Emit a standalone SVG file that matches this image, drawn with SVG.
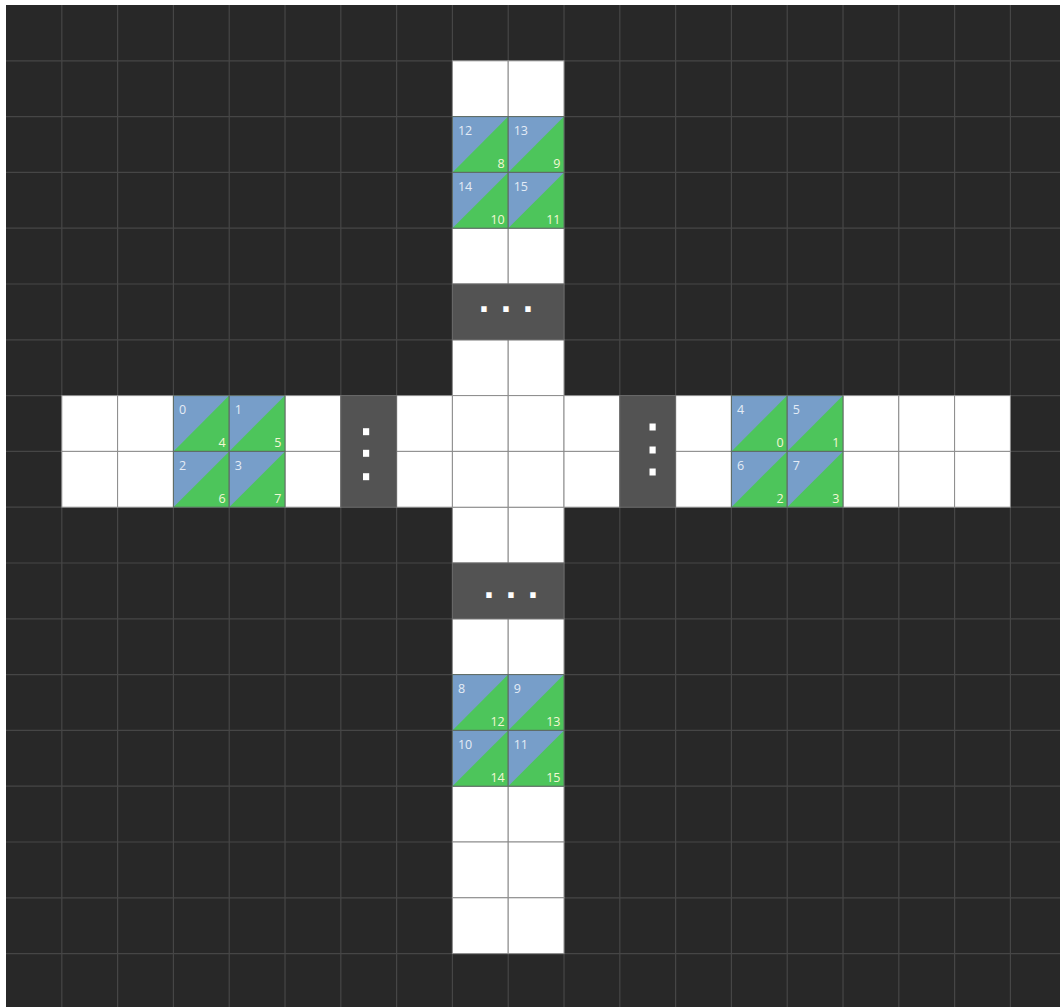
<svg xmlns="http://www.w3.org/2000/svg" xmlns:xlink="http://www.w3.org/1999/xlink" width="1060" height="1007" viewBox="0 0 1060 1007">
<style>
.gl{stroke:#464646;stroke-width:1.2;fill:none}
.w{fill:#ffffff;stroke:#8c8c8c;stroke-width:1}
.dk{fill:#535353;stroke:#6a6a6a;stroke-width:1}
.a{font-family:"Open Sans","DejaVu Sans",sans-serif;font-size:12.5px;fill:#e4ecf6}
.b{font-family:"Open Sans","DejaVu Sans",sans-serif;font-size:12.5px;fill:#f2f8d4;text-anchor:end}
.dot{font-family:"DejaVu Sans",sans-serif;font-weight:bold;font-size:30px;fill:#ffffff}
.vd{fill:#ffffff}
</style>
<defs>
<g id="tile">
<rect x="0" y="0" width="55.8" height="55.8" fill="#779ec9"/>
<polygon points="0,55.8 55.8,0 55.8,55.8" fill="#4dc55b"/>
<rect x="0" y="0" width="55.8" height="55.8" fill="none" stroke="#5e6a62" stroke-width="1"/>
</g>
<rect id="wc" x="0" y="0" width="55.8" height="55.8" class="w"/>
</defs>
<rect x="0" y="0" width="1060" height="1007" fill="#ffffff"/>
<rect x="6" y="5" width="1054" height="1002" fill="#282828"/>
<g id="grid">
<path class="gl" d="M61.8 5V1007M117.6 5V1007M173.4 5V1007M229.2 5V1007M285 5V1007M340.8 5V1007M396.6 5V1007M452.4 5V1007M508.2 5V1007M564 5V1007M619.8 5V1007M675.6 5V1007M731.4 5V1007M787.2 5V1007M843 5V1007M898.8 5V1007M954.6 5V1007M1010.4 5V1007"/>
<path class="gl" d="M6 60.8H1060M6 116.6H1060M6 172.4H1060M6 228.2H1060M6 284H1060M6 339.8H1060M6 395.6H1060M6 451.4H1060M6 507.2H1060M6 563H1060M6 618.8H1060M6 674.6H1060M6 730.4H1060M6 786.2H1060M6 842H1060M6 897.8H1060M6 953.6H1060"/>
</g>
<g id="white-cells">
<use xlink:href="#wc" x="452.4" y="60.8"/><use xlink:href="#wc" x="508.2" y="60.8"/>
<use xlink:href="#wc" x="452.4" y="228.2"/><use xlink:href="#wc" x="508.2" y="228.2"/>
<use xlink:href="#wc" x="452.4" y="339.8"/><use xlink:href="#wc" x="508.2" y="339.8"/>
<use xlink:href="#wc" x="452.4" y="507.2"/><use xlink:href="#wc" x="508.2" y="507.2"/>
<use xlink:href="#wc" x="452.4" y="618.8"/><use xlink:href="#wc" x="508.2" y="618.8"/>
<use xlink:href="#wc" x="452.4" y="786.2"/><use xlink:href="#wc" x="508.2" y="786.2"/>
<use xlink:href="#wc" x="452.4" y="842"/><use xlink:href="#wc" x="508.2" y="842"/>
<use xlink:href="#wc" x="452.4" y="897.8"/><use xlink:href="#wc" x="508.2" y="897.8"/>
<use xlink:href="#wc" x="61.8" y="395.6"/><use xlink:href="#wc" x="61.8" y="451.4"/>
<use xlink:href="#wc" x="117.6" y="395.6"/><use xlink:href="#wc" x="117.6" y="451.4"/>
<use xlink:href="#wc" x="285" y="395.6"/><use xlink:href="#wc" x="285" y="451.4"/>
<use xlink:href="#wc" x="396.6" y="395.6"/><use xlink:href="#wc" x="396.6" y="451.4"/>
<use xlink:href="#wc" x="452.4" y="395.6"/><use xlink:href="#wc" x="452.4" y="451.4"/>
<use xlink:href="#wc" x="508.2" y="395.6"/><use xlink:href="#wc" x="508.2" y="451.4"/>
<use xlink:href="#wc" x="564" y="395.6"/><use xlink:href="#wc" x="564" y="451.4"/>
<use xlink:href="#wc" x="675.6" y="395.6"/><use xlink:href="#wc" x="675.6" y="451.4"/>
<use xlink:href="#wc" x="843" y="395.6"/><use xlink:href="#wc" x="843" y="451.4"/>
<use xlink:href="#wc" x="898.8" y="395.6"/><use xlink:href="#wc" x="898.8" y="451.4"/>
<use xlink:href="#wc" x="954.6" y="395.6"/><use xlink:href="#wc" x="954.6" y="451.4"/>
</g>
<g id="gap-top"><rect class="dk" x="452.4" y="284" width="111.6" height="55.8"/><text class="dot" x="478.3" y="312.3" letter-spacing="10.6">...</text></g>
<g id="gap-bottom"><rect class="dk" x="452.4" y="563" width="111.6" height="55.8"/><text class="dot" x="483.3" y="598" letter-spacing="10.6">...</text></g>
<g id="gap-left"><rect class="dk" x="340.8" y="395.6" width="55.8" height="111.6"/><rect class="vd" x="363" y="428.2" width="6.2" height="7"/><rect class="vd" x="363" y="449.8" width="6.2" height="7"/><rect class="vd" x="363" y="473.2" width="6.2" height="7"/></g>
<g id="gap-right"><rect class="dk" x="619.8" y="395.6" width="55.8" height="111.6"/><rect class="vd" x="649.5" y="423.5" width="6.2" height="7"/><rect class="vd" x="649.5" y="446.5" width="6.2" height="7"/><rect class="vd" x="649.5" y="468.5" width="6.2" height="7"/></g>
<g id="t12" transform="translate(452.4,116.6)"><use xlink:href="#tile"/><text class="a" x="5.5" y="18.5">12</text><text class="b" x="52.3" y="51.8">8</text></g>
<g id="t13" transform="translate(508.2,116.6)"><use xlink:href="#tile"/><text class="a" x="5.5" y="18.5">13</text><text class="b" x="52.3" y="51.8">9</text></g>
<g id="t14" transform="translate(452.4,172.4)"><use xlink:href="#tile"/><text class="a" x="5.5" y="18.5">14</text><text class="b" x="52.3" y="51.8">10</text></g>
<g id="t15" transform="translate(508.2,172.4)"><use xlink:href="#tile"/><text class="a" x="5.5" y="18.5">15</text><text class="b" x="52.3" y="51.8">11</text></g>
<g id="b8" transform="translate(452.4,674.6)"><use xlink:href="#tile"/><text class="a" x="5.5" y="18.5">8</text><text class="b" x="52.3" y="51.8">12</text></g>
<g id="b9" transform="translate(508.2,674.6)"><use xlink:href="#tile"/><text class="a" x="5.5" y="18.5">9</text><text class="b" x="52.3" y="51.8">13</text></g>
<g id="b10" transform="translate(452.4,730.4)"><use xlink:href="#tile"/><text class="a" x="5.5" y="18.5">10</text><text class="b" x="52.3" y="51.8">14</text></g>
<g id="b11" transform="translate(508.2,730.4)"><use xlink:href="#tile"/><text class="a" x="5.5" y="18.5">11</text><text class="b" x="52.3" y="51.8">15</text></g>
<g id="l0" transform="translate(173.4,395.6)"><use xlink:href="#tile"/><text class="a" x="5.5" y="18.5">0</text><text class="b" x="52.3" y="51.8">4</text></g>
<g id="l1" transform="translate(229.2,395.6)"><use xlink:href="#tile"/><text class="a" x="5.5" y="18.5">1</text><text class="b" x="52.3" y="51.8">5</text></g>
<g id="l2" transform="translate(173.4,451.4)"><use xlink:href="#tile"/><text class="a" x="5.5" y="18.5">2</text><text class="b" x="52.3" y="51.8">6</text></g>
<g id="l3" transform="translate(229.2,451.4)"><use xlink:href="#tile"/><text class="a" x="5.5" y="18.5">3</text><text class="b" x="52.3" y="51.8">7</text></g>
<g id="r4" transform="translate(731.4,395.6)"><use xlink:href="#tile"/><text class="a" x="5.5" y="18.5">4</text><text class="b" x="52.3" y="51.8">0</text></g>
<g id="r5" transform="translate(787.2,395.6)"><use xlink:href="#tile"/><text class="a" x="5.5" y="18.5">5</text><text class="b" x="52.3" y="51.8">1</text></g>
<g id="r6" transform="translate(731.4,451.4)"><use xlink:href="#tile"/><text class="a" x="5.5" y="18.5">6</text><text class="b" x="52.3" y="51.8">2</text></g>
<g id="r7" transform="translate(787.2,451.4)"><use xlink:href="#tile"/><text class="a" x="5.5" y="18.5">7</text><text class="b" x="52.3" y="51.8">3</text></g>
<g id="connectors"/>
</svg>
